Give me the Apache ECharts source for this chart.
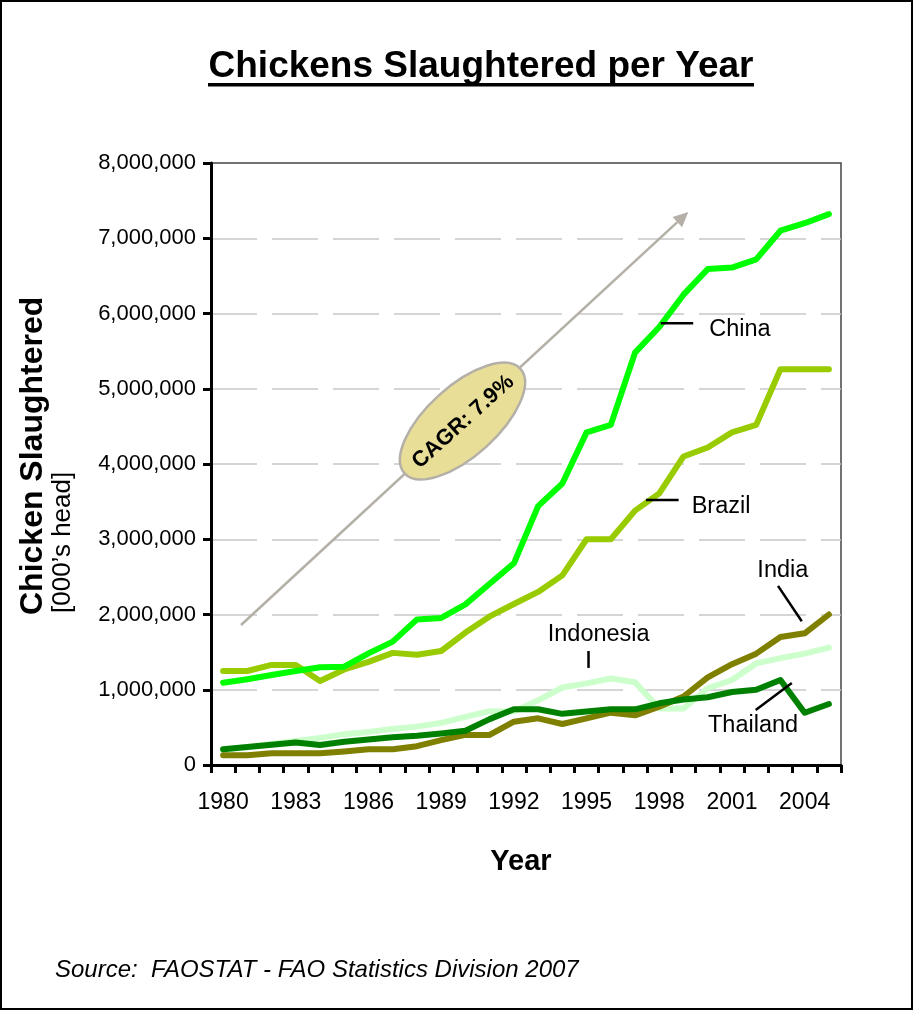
<!DOCTYPE html>
<html>
<head>
<meta charset="utf-8">
<script src="https://cdn.jsdelivr.net/npm/echarts@6/dist/echarts.min.js"></script>
<style>
  html, body { margin: 0; padding: 0; background: #fff; }
  #chart { width: 913px; height: 1010px; }
</style>
</head>
<body>
<div id="chart"></div>
<script>
// Chickens slaughtered per year, thousands of head (FAOSTAT)
const years = ['1980','1981','1982','1983','1984','1985','1986','1987','1988','1989',
               '1990','1991','1992','1993','1994','1995','1996','1997','1998','1999',
               '2000','2001','2002','2003','2004','2005'];

const china = [1094000, 1139000, 1196000, 1249000, 1298000, 1306000, 1484000, 1639000, 1935000, 1955000,
               2135000, 2408000, 2680000, 3440000, 3740000, 4420000, 4520000, 5480000, 5820000, 6250000,
               6590000, 6610000, 6720000, 7100000, 7200000, 7320000];
const brazil = [1249000, 1249000, 1330000, 1330000, 1116000, 1270000, 1370000, 1490000, 1465000, 1515000,
                1760000, 1975000, 2140000, 2300000, 2520000, 3000000, 3000000, 3380000, 3610000, 4100000,
                4220000, 4420000, 4520000, 5260000, 5260000, 5260000];
const indonesia = [200000, 240000, 280000, 320000, 360000, 410000, 440000, 480000, 510000, 560000,
                   640000, 715000, 712000, 860000, 1030000, 1085000, 1150000, 1100000, 750000, 750000,
                   1020000, 1130000, 1350000, 1420000, 1480000, 1560000];
const thailand = [210000, 240000, 270000, 300000, 265000, 310000, 340000, 370000, 390000, 420000,
                  455000, 610000, 740000, 740000, 680000, 710000, 740000, 740000, 820000, 870000,
                  900000, 970000, 1000000, 1130000, 695000, 810000];
const india = [130000, 130000, 155000, 155000, 155000, 180000, 210000, 210000, 250000, 330000,
               400000, 400000, 575000, 620000, 545000, 620000, 695000, 660000, 775000, 910000,
               1165000, 1340000, 1480000, 1700000, 1750000, 2000000];

const yTicks = { min: 0, max: 8000000, step: 1000000 };

const FONT = '"Liberation Sans", Arial, sans-serif';

const chart = echarts.init(document.getElementById('chart'), null, { renderer: 'canvas' });

function lineSeries(name, data, color) {
  return {
    name: name, type: 'line', data: data, symbol: 'none', smooth: false,
    lineStyle: { color: color, width: 6, cap: 'round', join: 'round' },
    itemStyle: { color: color }, z: 3
  };
}

chart.setOption({
  animation: false,
  backgroundColor: '#ffffff',
  grid: { left: 211, right: 72, top: 163, bottom: 245, show: true, borderColor: '#444', borderWidth: 1.5 },
  xAxis: {
    type: 'category', data: years, boundaryGap: true,
    axisLine: { lineStyle: { color: '#000', width: 3 } },
    axisTick: { show: true, interval: 0, length: 8, lineStyle: { color: '#000', width: 3 } },
    axisLabel: { interval: 2, color: '#000', fontSize: 23, fontFamily: FONT, margin: 26 },
    splitLine: { show: false }
  },
  yAxis: {
    type: 'value', min: yTicks.min, max: yTicks.max, interval: yTicks.step,
    axisLine: { show: true, lineStyle: { color: '#000', width: 3 } },
    axisTick: { show: true, length: 8, lineStyle: { color: '#000', width: 3 } },
    axisLabel: { color: '#000', fontSize: 22, fontFamily: FONT, margin: 15,
                 formatter: v => v.toLocaleString('en-US') },
    splitLine: { show: true, showMaxLine: false, showMinLine: false,
                 lineStyle: { color: '#c8c8c8', width: 1.5, type: [46, 15] } }
  },
  series: [
    lineSeries('Indonesia', indonesia, '#ccffcc'),
    lineSeries('India', india, '#808000'),
    lineSeries('Thailand', thailand, '#008000'),
    lineSeries('Brazil', brazil, '#99cc00'),
    lineSeries('China', china, '#00ff00')
  ]
});

// map a (fractional category index, value) pair onto the grid
const p0 = chart.convertToPixel({ gridIndex: 0 }, [0, 0]);
const p1 = chart.convertToPixel({ gridIndex: 0 }, [1, 0]);
const step = p1[0] - p0[0];
function px(i, v) {
  const y = chart.convertToPixel({ gridIndex: 0 }, [0, v])[1];
  return [p0[0] + step * i, y];
}

// series labels with their leader lines (index, value)
const labels = [
  { text: 'China',     pos: [21.33, 5790000], leader: [[18.06, 5870000], [19.4, 5870000]] },
  { text: 'Brazil',    pos: [20.55, 3440000], leader: [[17.45, 3520000], [18.8, 3520000]] },
  { text: 'India',     pos: [23.1, 2580000], leader: [[22.9, 2380000], [23.88, 1910000]] },
  { text: 'Indonesia', pos: [15.5, 1740000], leader: [[15.08, 1515000], [15.08, 1290000]] },
  { text: 'Thailand',  pos: [21.87, 530000], leader: [[21.98, 730000], [23.47, 1090000]] }
];

const graphics = [];

labels.forEach(l => {
  const c = px(l.pos[0], l.pos[1]);
  graphics.push({
    type: 'text', x: c[0], y: c[1], z: 10,
    style: { text: l.text, fill: '#000', font: '23.5px ' + FONT, textAlign: 'center', textVerticalAlign: 'middle' }
  });
  const a = px(l.leader[0][0], l.leader[0][1]);
  const b = px(l.leader[1][0], l.leader[1][1]);
  graphics.push({
    type: 'line', z: 10,
    shape: { x1: a[0], y1: a[1], x2: b[0], y2: b[1] },
    style: { stroke: '#000', lineWidth: 2.5 }
  });
});

// growth arrow and CAGR badge
const arrowFrom = px(0.74, 1860000);
const arrowTo = px(19.2, 7350000);
const ang = Math.atan2(arrowTo[1] - arrowFrom[1], arrowTo[0] - arrowFrom[0]);
const headLen = 15, headW = 7;
const base = [arrowTo[0] - headLen * Math.cos(ang), arrowTo[1] - headLen * Math.sin(ang)];
graphics.push({
  type: 'line', z: 5,
  shape: { x1: arrowFrom[0], y1: arrowFrom[1], x2: base[0], y2: base[1] },
  style: { stroke: '#b4b0a8', lineWidth: 2.5 }
});
graphics.push({
  type: 'polygon', z: 5,
  shape: { points: [
    arrowTo,
    [base[0] + headW * Math.sin(ang), base[1] - headW * Math.cos(ang)],
    [base[0] - headW * Math.sin(ang), base[1] + headW * Math.cos(ang)]
  ] },
  style: { fill: '#b4b0a8' }
});
const badge = px(9.88, 4570000);
graphics.push({
  type: 'group', x: badge[0], y: badge[1], rotation: 42 * Math.PI / 180, z: 6,
  children: [
    { type: 'ellipse', shape: { cx: 0, cy: 0, rx: 78, ry: 35 },
      style: { fill: '#e8de98', stroke: '#b4b0a8', lineWidth: 2.5 }, z: 6 },
    { type: 'text', x: 0, y: 1, z: 7,
      style: { text: 'CAGR: 7.9%', fill: '#000', font: 'bold 22px ' + FONT, textAlign: 'center', textVerticalAlign: 'middle' } }
  ]
});

// titles, axis names, source and frame
graphics.push(
  { type: 'rect', shape: { x: 1, y: 1, width: 911, height: 1008 }, style: { fill: 'none', stroke: '#000', lineWidth: 2 }, z: 20 },
  { type: 'text', x: 481, y: 67, z: 10,
    style: { text: 'Chickens Slaughtered per Year', fill: '#000', font: 'bold 37px ' + FONT, textAlign: 'center', textVerticalAlign: 'middle' } },
  { type: 'rect', shape: { x: 208, y: 83, width: 546, height: 3.5 }, style: { fill: '#000' }, z: 10 },
  { type: 'text', x: 33, y: 615, rotation: Math.PI / 2, z: 10,
    style: { text: 'Chicken Slaughtered', fill: '#000', font: 'bold 32px ' + FONT, textAlign: 'left', textVerticalAlign: 'middle' } },
  { type: 'text', x: 63, y: 613, rotation: Math.PI / 2, z: 10,
    style: { text: '[000\u2019s head]', fill: '#000', font: '26px ' + FONT, textAlign: 'left', textVerticalAlign: 'middle' } },
  { type: 'text', x: 521, y: 862, z: 10,
    style: { text: 'Year', fill: '#000', font: 'bold 29px ' + FONT, textAlign: 'center', textVerticalAlign: 'middle' } },
  { type: 'text', x: 55, y: 970, z: 10,
    style: { text: 'Source:  FAOSTAT - FAO Statistics Division 2007', fill: '#000', font: 'italic 24px ' + FONT, textAlign: 'left', textVerticalAlign: 'middle' } }
);

chart.setOption({ graphic: graphics });
</script>
</body>
</html>
